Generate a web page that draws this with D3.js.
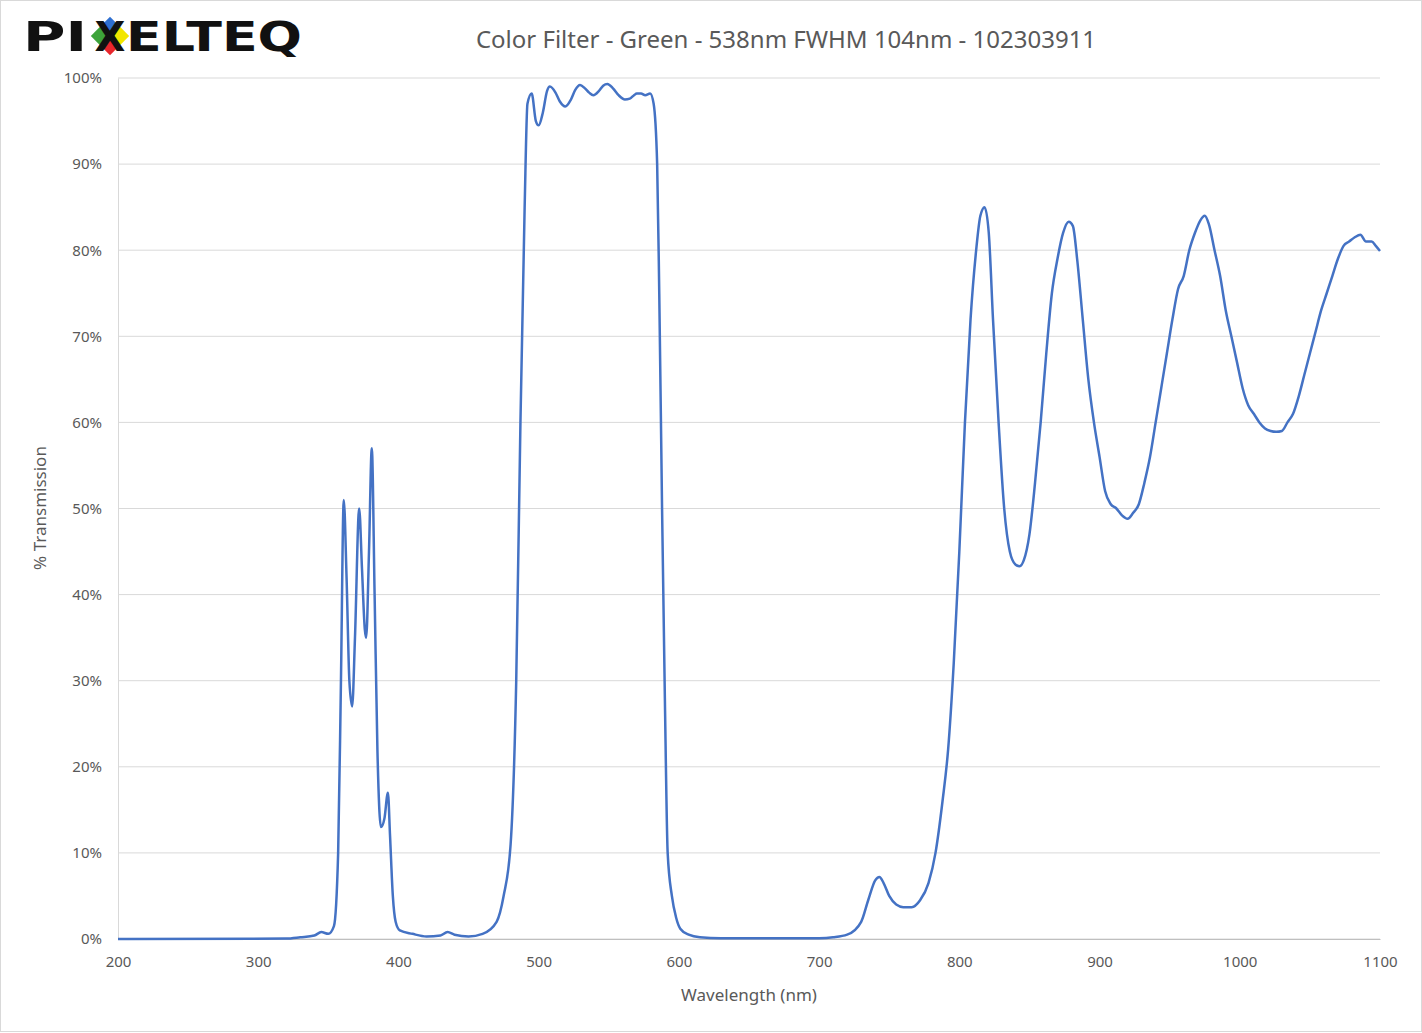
<!DOCTYPE html>
<html><head><meta charset="utf-8">
<script src="https://cdn.jsdelivr.net/npm/d3@7"></script>
<style>body{margin:0;background:#fff;font-family:"Noto Sans","Open Sans",sans-serif}</style>
</head><body><div class="chart"></div>
<script>
// wavelength (nm) and % transmission
var wavelength = [200,320,330,340,345,350,354,357,359,361,363,365,367,369,372,374,376,377,379,381,383,385,387.5,390,392.5,394,396,398,401,410,420,430,435,440,450,460,470,475,480,484,487,490,492,495,498,500,503,506,508,512,515,519,523,526,529.5,533,536,539,543,546,549,553,557,561.5,565,568,570,573,576,579.5,582,584.5,586,588,590,592,595,598,601,607,615,630,700,710,720,730,735,740,743,746,750,755,760,766,772,778,783,788,792,796,800,804,808,812,815,818,821,824,828,832,836,840,843,846,850,854,858,862,866,870,874,878,881,884,888,892,896,900,904,908,912,916,920,924,928,932,936,940,944,948,952,956,960,964,968,972,975,978,982,986,990,994,998,1002,1006,1010,1014,1018,1022,1026,1030,1034,1038,1042,1046,1050,1054,1058,1062,1066,1070,1074,1078,1082,1086,1090,1094,1097,1100];
var transmission = [0,0.05,0.2,0.4,0.8,0.6,1.5,10,30,51,42,30,27,35,50,43,36,35,45,57,40,22,13,14,17,12,5,2,1,0.6,0.3,0.4,0.8,0.5,0.3,0.6,2,5,11,30,60,85,97,98.2,95,94.5,96,98.5,99,98.3,97.3,96.7,97.5,98.6,99.2,98.8,98.3,98,98.5,99.1,99.3,98.8,98,97.5,97.6,98,98.2,98.2,98,98.2,97,90,75,50,28,10,5,2.5,1.2,0.5,0.2,0.1,0.1,0.2,0.5,2,4.5,6.8,7.2,6.5,5,4,3.7,3.7,4.5,6.5,10,16,22,32,45,60,72,80,84,85,82,72,60,50,45,43.5,43.3,44,47,53,60,68,75,79,82,83.3,82.8,79,72,65,60,56,52,50.5,50,49.2,48.8,49.5,50.5,53,56,60,64,68,72,75.5,77,80,82,83.5,84,83,80,77,73,70,67,64,62,61,60,59.3,59,58.9,59,60,61,63,65.5,68,70.5,73,75,77,79,80.5,81,81.5,81.8,81,81,80.5,79.9];
var xTicks = [200,300,400,500,600,700,800,900,1000,1100];
var yTicks = [0,10,20,30,40,50,60,70,80,90,100];

var svg = d3.select(".chart").append("svg").attr("width",1422).attr("height",1033);
svg.append("rect").attr("x",0.5).attr("y",0.5).attr("width",1421).attr("height",1031).attr("fill","#fff").attr("stroke","#d9d9d9");

var x = d3.scaleLinear().domain([200,1100]).range([118,1380]);
var y = d3.scaleLinear().domain([0,100]).range([939,78]);

// gridlines
svg.append("g").selectAll("line").data(yTicks).enter().append("line")
  .attr("x1",118).attr("x2",1380).attr("y1",d=>y(d)).attr("y2",d=>y(d))
  .attr("stroke","#d9d9d9").attr("stroke-width",1);

var yAxis = svg.append("g").attr("transform","translate(118,0)")
  .call(d3.axisLeft(y).tickValues(yTicks).tickSize(0).tickPadding(16).tickFormat(d=>d+"%"));
yAxis.select(".domain").attr("stroke","#d9d9d9");
var xAxis = svg.append("g").attr("transform","translate(0,939)")
  .call(d3.axisBottom(x).tickValues(xTicks).tickSize(0).tickPadding(17).tickFormat(d=>d));
xAxis.select(".domain").attr("stroke","#bfbfbf");
svg.selectAll(".tick text").attr("fill","#595959").style("font-size","15px").style("font-family","'Noto Sans',sans-serif");

var pts = wavelength.map((w,i)=>[w,transmission[i]]);
svg.append("path").datum(pts)
  .attr("fill","none").attr("stroke","#4472c4").attr("stroke-width",2.5)
  .attr("d",d3.line().x(d=>x(d[0])).y(d=>y(d[1])).curve(d3.curveMonotoneX));

svg.append("text").attr("x",786).attr("y",48).attr("text-anchor","middle")
  .attr("fill","#595959").style("font-size","24px").text("Color Filter - Green - 538nm FWHM 104nm - 102303911");
svg.append("text").attr("x",749).attr("y",1001).attr("text-anchor","middle")
  .attr("fill","#595959").style("font-size","17px").text("Wavelength (nm)");
svg.append("text").attr("transform","translate(46,508) rotate(-90)").attr("text-anchor","middle")
  .attr("fill","#595959").style("font-size","17px").text("% Transmission");

// logo
var logo = svg.append("g");
var diamonds = [["#2e6fd0",110,26],["#3da33a",100,36],["#f2e600",120,36],["#e8262c",110,46]];
logo.selectAll("rect").data(diamonds).enter().append("rect")
  .attr("x",-6.5).attr("y",-6.5).attr("width",13).attr("height",13).attr("fill",d=>d[0])
  .attr("transform",d=>"translate("+d[1]+","+d[2]+") rotate(45)");
var lf = t => t.attr("fill","#111").style("font-size","40px").style("font-weight","bold")
  .style("font-family","'DejaVu Sans',sans-serif").attr("lengthAdjust","spacingAndGlyphs");
lf(logo.append("text").attr("x",23).attr("y",51).attr("textLength",64).text("PI"));
lf(logo.append("text").attr("x",110).attr("y",51).attr("text-anchor","middle").text("X"));
lf(logo.append("text").attr("x",126).attr("y",51).attr("textLength",176).text("ELTEQ"));
</script></body></html>
